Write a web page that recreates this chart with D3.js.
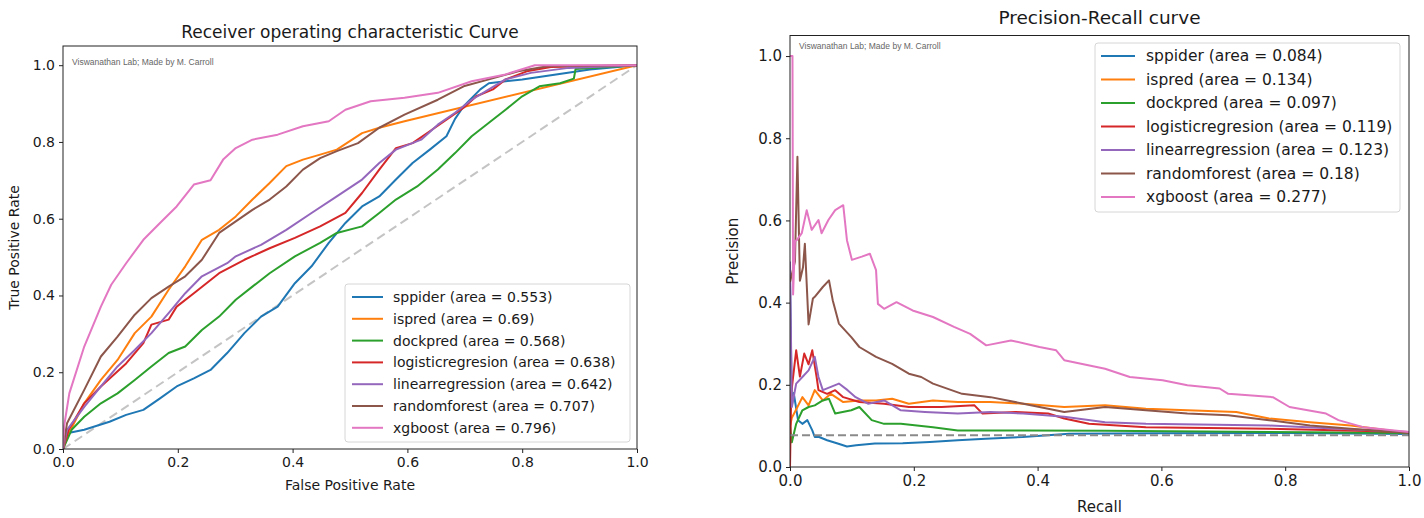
<!DOCTYPE html>
<html>
<head>
<meta charset="utf-8">
<script src="https://cdn.jsdelivr.net/npm/d3@7/dist/d3.min.js"></script>
<style>
  html, body { margin: 0; padding: 0; background: #fff; }
  svg text { font-family: "DejaVu Sans", sans-serif; fill: #1a1a1a; }
</style>
</head>
<body>
<svg id="chart" width="1424" height="518"></svg>
<script>
// ---- Model names, colours and legend areas ----
const models = ["sppider", "ispred", "dockpred", "logisticregresion", "linearregression", "randomforest", "xgboost"];
const colors = ["#1f77b4", "#ff7f0e", "#2ca02c", "#d62728", "#9467bd", "#8c564b", "#e377c2"];
const rocAreas = ["0.553", "0.69", "0.568", "0.638", "0.642", "0.707", "0.796"];
const prAreas = ["0.084", "0.134", "0.097", "0.119", "0.123", "0.18", "0.277"];
const tickValues = [0, 0.2, 0.4, 0.6, 0.8, 1.0];
const watermark = "Viswanathan Lab; Made by M. Carroll";
const prBaseline = 0.077;

// ---- ROC curves: [false positive rate, true positive rate] ----
const rocSppider = [[0,0],[0.007,0.041],[0.037,0.05],[0.081,0.071],[0.11,0.089],[0.14,0.102],[0.169,0.132],[0.198,0.163],[0.228,0.184],[0.257,0.206],[0.286,0.25],[0.316,0.302],[0.345,0.345],[0.374,0.371],[0.404,0.432],[0.433,0.476],[0.463,0.537],[0.492,0.589],[0.521,0.632],[0.551,0.658],[0.58,0.702],[0.609,0.745],[0.639,0.78],[0.668,0.815],[0.683,0.86],[0.698,0.893],[0.727,0.937],[0.742,0.953],[0.8,0.963],[0.859,0.976],[0.918,0.989],[1,1]];
const rocIspred = [[0,0],[0.01,0.04],[0.037,0.119],[0.066,0.18],[0.095,0.232],[0.125,0.302],[0.154,0.345],[0.184,0.415],[0.213,0.476],[0.242,0.545],[0.272,0.571],[0.301,0.606],[0.33,0.65],[0.36,0.693],[0.389,0.737],[0.418,0.754],[0.448,0.767],[0.477,0.78],[0.521,0.823],[0.551,0.837],[0.595,0.854],[1,1]];
const rocDockpred = [[0,0],[0.015,0.05],[0.037,0.084],[0.066,0.119],[0.095,0.145],[0.125,0.18],[0.154,0.215],[0.184,0.25],[0.213,0.267],[0.242,0.31],[0.272,0.345],[0.301,0.389],[0.33,0.423],[0.36,0.458],[0.404,0.502],[0.448,0.537],[0.477,0.563],[0.521,0.58],[0.551,0.615],[0.58,0.65],[0.617,0.684],[0.653,0.728],[0.683,0.771],[0.712,0.815],[0.742,0.85],[0.771,0.884],[0.8,0.919],[0.83,0.945],[0.866,0.953],[0.89,0.965],[0.893,0.99],[1,1]];
const rocLogistic = [[0,0],[0.01,0.05],[0.037,0.119],[0.066,0.163],[0.11,0.223],[0.14,0.276],[0.154,0.324],[0.184,0.337],[0.198,0.371],[0.228,0.406],[0.272,0.458],[0.316,0.493],[0.36,0.523],[0.404,0.55],[0.448,0.58],[0.492,0.615],[0.521,0.667],[0.551,0.728],[0.58,0.784],[0.609,0.797],[0.639,0.828],[0.668,0.858],[0.698,0.889],[0.72,0.919],[0.749,0.937],[0.771,0.963],[0.808,0.984],[0.85,0.995],[1,1]];
const rocLinear = [[0,0],[0.007,0.05],[0.037,0.11],[0.066,0.163],[0.095,0.215],[0.125,0.258],[0.154,0.302],[0.184,0.354],[0.213,0.406],[0.242,0.45],[0.286,0.484],[0.301,0.502],[0.345,0.532],[0.389,0.571],[0.433,0.615],[0.477,0.658],[0.521,0.702],[0.551,0.745],[0.58,0.78],[0.624,0.806],[0.653,0.845],[0.683,0.876],[0.712,0.91],[0.742,0.937],[0.771,0.963],[0.815,0.98],[0.881,0.993],[1,1]];
const rocForest = [[0,0],[0.007,0.067],[0.037,0.154],[0.066,0.241],[0.095,0.293],[0.125,0.35],[0.154,0.393],[0.184,0.423],[0.213,0.45],[0.242,0.493],[0.272,0.563],[0.301,0.593],[0.33,0.623],[0.36,0.65],[0.389,0.684],[0.418,0.728],[0.448,0.758],[0.477,0.776],[0.514,0.797],[0.551,0.837],[0.595,0.871],[0.653,0.91],[0.698,0.945],[0.742,0.963],[0.793,0.984],[0.844,0.997],[1,1]];
const rocXgboost = [[0,0],[0.002,0.06],[0.011,0.145],[0.037,0.267],[0.066,0.371],[0.084,0.428],[0.11,0.484],[0.14,0.545],[0.169,0.589],[0.198,0.632],[0.228,0.689],[0.257,0.7],[0.279,0.754],[0.301,0.784],[0.33,0.806],[0.374,0.819],[0.418,0.841],[0.463,0.854],[0.492,0.884],[0.536,0.906],[0.595,0.915],[0.653,0.928],[0.712,0.958],[0.771,0.976],[0.822,1.0],[1,1]];

// ---- Precision-recall curves: [recall, precision] ----
const prSppider = [[0,0.45],[0.003,0.15],[0.006,0.18],[0.013,0.114],[0.02,0.105],[0.028,0.114],[0.036,0.089],[0.04,0.073],[0.047,0.073],[0.06,0.065],[0.077,0.057],[0.092,0.05],[0.107,0.053],[0.137,0.057],[0.182,0.058],[0.226,0.061],[0.271,0.065],[0.316,0.069],[0.376,0.073],[0.451,0.081],[0.6,0.082],[0.8,0.083],[1,0.08]];
const prIspred = [[0,0.1],[0.003,0.12],[0.01,0.14],[0.02,0.17],[0.03,0.15],[0.04,0.187],[0.053,0.162],[0.066,0.178],[0.086,0.158],[0.112,0.162],[0.139,0.162],[0.165,0.166],[0.192,0.154],[0.231,0.162],[0.271,0.158],[0.324,0.158],[0.377,0.154],[0.443,0.146],[0.509,0.15],[0.575,0.142],[0.642,0.138],[0.721,0.134],[0.774,0.118],[0.84,0.109],[0.906,0.101],[1,0.083]];
const prDockpred = [[0,0.1],[0.003,0.06],[0.01,0.105],[0.02,0.138],[0.03,0.146],[0.04,0.15],[0.053,0.162],[0.063,0.166],[0.073,0.13],[0.099,0.138],[0.112,0.146],[0.132,0.114],[0.152,0.105],[0.179,0.105],[0.231,0.097],[0.271,0.089],[0.377,0.089],[0.509,0.088],[0.774,0.085],[1,0.083]];
const prLogistic = [[0,0],[0.002,0.18],[0.01,0.284],[0.016,0.22],[0.023,0.276],[0.03,0.25],[0.036,0.284],[0.043,0.219],[0.046,0.187],[0.06,0.178],[0.073,0.187],[0.086,0.17],[0.112,0.158],[0.152,0.154],[0.192,0.146],[0.245,0.146],[0.298,0.15],[0.311,0.13],[0.364,0.134],[0.417,0.13],[0.443,0.118],[0.483,0.105],[0.575,0.097],[0.774,0.093],[1,0.085]];
const prLinear = [[0,0.5],[0.003,0.146],[0.01,0.203],[0.02,0.219],[0.03,0.235],[0.04,0.268],[0.046,0.219],[0.053,0.187],[0.066,0.195],[0.079,0.203],[0.093,0.187],[0.106,0.17],[0.126,0.154],[0.152,0.162],[0.179,0.138],[0.218,0.134],[0.271,0.13],[0.324,0.134],[0.377,0.13],[0.443,0.122],[0.509,0.109],[0.575,0.105],[0.774,0.101],[1,0.085]];
const prForest = [[0,0.45],[0.008,0.5],[0.012,0.755],[0.016,0.453],[0.021,0.486],[0.024,0.543],[0.027,0.445],[0.03,0.347],[0.037,0.41],[0.04,0.414],[0.053,0.438],[0.063,0.454],[0.069,0.406],[0.079,0.349],[0.099,0.316],[0.112,0.292],[0.139,0.268],[0.165,0.251],[0.192,0.227],[0.212,0.219],[0.231,0.203],[0.278,0.178],[0.324,0.17],[0.377,0.154],[0.443,0.134],[0.509,0.146],[0.575,0.138],[0.642,0.13],[0.708,0.126],[0.774,0.114],[0.84,0.101],[0.906,0.093],[1,0.083]];
const prXgboost = [[0,1.0],[0.004,1.0],[0.005,0.42],[0.008,0.55],[0.011,0.552],[0.019,0.569],[0.027,0.625],[0.035,0.577],[0.046,0.601],[0.051,0.569],[0.062,0.601],[0.073,0.625],[0.086,0.637],[0.092,0.552],[0.1,0.504],[0.116,0.512],[0.129,0.519],[0.139,0.479],[0.142,0.397],[0.152,0.385],[0.172,0.401],[0.198,0.381],[0.231,0.365],[0.265,0.341],[0.291,0.324],[0.317,0.296],[0.357,0.308],[0.403,0.292],[0.43,0.284],[0.443,0.26],[0.509,0.239],[0.549,0.219],[0.602,0.211],[0.642,0.199],[0.694,0.191],[0.708,0.178],[0.78,0.17],[0.807,0.146],[0.866,0.13],[0.886,0.114],[0.926,0.097],[1,0.085]];

const rocSeries = [rocSppider, rocIspred, rocDockpred, rocLogistic, rocLinear, rocForest, rocXgboost];
const prSeries = [prSppider, prIspred, prDockpred, prLogistic, prLinear, prForest, prXgboost];

const svg = d3.select("#chart");
const fmt = d3.format(".1f");

function drawPanel(cfg) {
  const g = svg.append("g");
  const x = d3.scaleLinear().domain([0, 1]).range([cfg.left, cfg.right]);
  const y = d3.scaleLinear().domain([0, 1.05]).range([cfg.bottom, cfg.top]);

  // clip the curves to the axes box
  const clipId = cfg.id + "-clip";
  svg.append("defs").append("clipPath").attr("id", clipId)
    .append("rect").attr("x", cfg.left).attr("y", cfg.top)
    .attr("width", cfg.right - cfg.left).attr("height", cfg.bottom - cfg.top);

  const plot = g.append("g").attr("clip-path", `url(#${clipId})`);
  const line = d3.line().x(d => x(d[0])).y(d => y(d[1]));

  if (cfg.reference === "diagonal") {
    plot.append("path").attr("d", line([[0, 0], [1, 1]]))
      .attr("fill", "none").attr("stroke", "#c4c4c4").attr("stroke-width", 2)
      .attr("stroke-dasharray", "9,5");
  }

  cfg.series.forEach((pts, i) => {
    plot.append("path").attr("d", line(pts))
      .attr("fill", "none").attr("stroke", colors[i]).attr("stroke-width", 2)
      .attr("stroke-linejoin", "round").attr("stroke-linecap", "butt");
  });

  if (cfg.reference === "baseline") {
    plot.append("path").attr("d", line([[0, prBaseline], [1, prBaseline]]))
      .attr("fill", "none").attr("stroke", "#8a8a8a").attr("stroke-width", 2)
      .attr("stroke-dasharray", "8,4");
  }

  // axes
  const xAxis = g.append("g").attr("transform", `translate(0,${cfg.bottom})`)
    .call(d3.axisBottom(x).tickValues(tickValues).tickFormat(fmt).tickSize(4).tickPadding(4));
  const yAxis = g.append("g").attr("transform", `translate(${cfg.left},0)`)
    .call(d3.axisLeft(y).tickValues(tickValues).tickFormat(fmt).tickSize(4).tickPadding(4));
  [xAxis, yAxis].forEach(a => {
    a.select(".domain").remove();
    a.selectAll(".tick line").attr("stroke", "#222").attr("stroke-width", 1);
    a.selectAll(".tick text").attr("font-size", cfg.tickFont + "px")
      .attr("font-family", "DejaVu Sans, sans-serif").attr("fill", "#222");
  });

  // frame
  g.append("rect").attr("x", cfg.left).attr("y", cfg.top)
    .attr("width", cfg.right - cfg.left).attr("height", cfg.bottom - cfg.top)
    .attr("fill", "none").attr("stroke", "#222").attr("stroke-width", 1);

  // watermark
  g.append("text").attr("x", cfg.left + 9).attr("y", cfg.top + cfg.wmDy)
    .attr("font-size", "8.5px").style("font-family", "Liberation Sans, Arial, sans-serif")
    .style("fill", "#666").text(watermark);

  // titles
  g.append("text").attr("x", (cfg.left + cfg.right) / 2).attr("y", cfg.titleY)
    .attr("text-anchor", "middle").attr("font-size", cfg.titleFont + "px").text(cfg.title);
  g.append("text").attr("x", (cfg.left + cfg.right) / 2).attr("y", cfg.xLabelY)
    .attr("text-anchor", "middle").attr("font-size", cfg.labelFont + "px").text(cfg.xLabel);
  g.append("text")
    .attr("transform", `translate(${cfg.yLabelX},${(cfg.top + cfg.bottom) / 2}) rotate(-90)`)
    .attr("text-anchor", "middle").attr("font-size", cfg.labelFont + "px").text(cfg.yLabel);

  // legend
  const L = cfg.legend;
  const lg = g.append("g");
  lg.append("rect").attr("x", L.x).attr("y", L.y).attr("width", L.w).attr("height", L.h)
    .attr("rx", 3).attr("fill", "#fff").attr("fill-opacity", 0.85)
    .attr("stroke", "#d6d6d6").attr("stroke-width", 1);
  models.forEach((m, i) => {
    const cy = L.y + L.first + i * L.step;
    lg.append("line").attr("x1", L.x + L.hx1).attr("x2", L.x + L.hx2)
      .attr("y1", cy).attr("y2", cy).attr("stroke", colors[i]).attr("stroke-width", 2);
    lg.append("text").attr("x", L.x + L.tx).attr("y", cy).attr("dy", "0.35em")
      .attr("font-size", L.font + "px").text(`${m} (area = ${cfg.areas[i]})`);
  });
}

drawPanel({
  id: "roc", left: 63, right: 637, top: 46, bottom: 449,
  series: rocSeries, areas: rocAreas, reference: "diagonal",
  title: "Receiver operating characteristic Curve", titleY: 38, titleFont: 17,
  xLabel: "False Positive Rate", xLabelY: 490,
  yLabel: "True Positive Rate", yLabelX: 19,
  labelFont: 14, tickFont: 14, wmDy: 19,
  legend: { x: 345, y: 284, w: 285, h: 158, first: 13, step: 21.8, hx1: 7, hx2: 38, tx: 48, font: 14 }
});

drawPanel({
  id: "pr", left: 790, right: 1409, top: 35.5, bottom: 467,
  series: prSeries, areas: prAreas, reference: "baseline",
  title: "Precision-Recall curve", titleY: 24, titleFont: 18.5,
  xLabel: "Recall", xLabelY: 512,
  yLabel: "Precision", yLabelX: 738,
  labelFont: 15, tickFont: 15, wmDy: 13,
  legend: { x: 1095, y: 43, w: 305, h: 169, first: 13, step: 23.5, hx1: 6, hx2: 40, tx: 51, font: 15.5 }
});
</script>
</body>
</html>
